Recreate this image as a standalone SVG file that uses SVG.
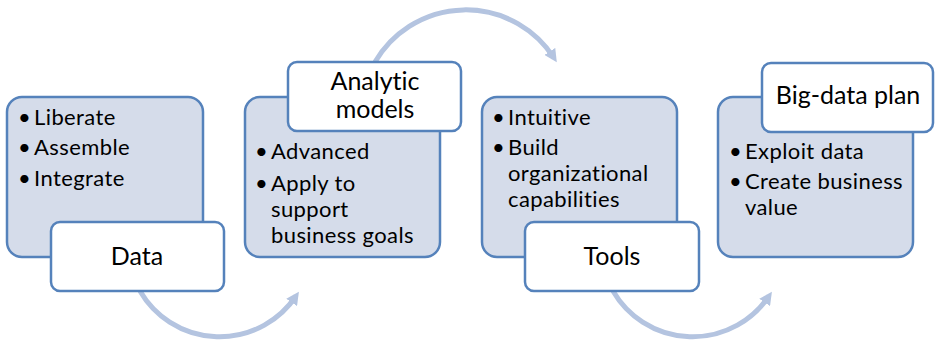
<svg xmlns="http://www.w3.org/2000/svg" width="935" height="341" viewBox="0 0 935 341">
  <defs>
    <marker id="tip" viewBox="0 0 10 10" refX="6" refY="5" markerWidth="2.6" markerHeight="2.6" orient="auto" markerUnits="strokeWidth">
      <path d="M0,0 L10,5 L0,10 z" fill="#b4c4e0"/>
    </marker>
    <style>
      .panel { fill: #d5dcea; stroke: #5582bb; stroke-width: 2.5; }
      .tag { fill: #ffffff; stroke: #5582bb; stroke-width: 2.5; }
      .flow { fill: none; stroke: #b4c4e0; stroke-width: 5; marker-end: url(#tip); }
      text { font-family: Lato, "Open Sans", "Liberation Sans", sans-serif; fill: #000; font-variant-ligatures: none; }
      .item { font-size: 22px; letter-spacing: 0.4px; }
      .dot { font-size: 22px; }
      .title { font-size: 25px; text-anchor: middle; }
    </style>
  </defs>

  <!-- curved flow arrows between the stages -->
  <g id="connectors">
    <path class="flow" d="M 140 291 A 92 92 0 0 0 296 296"/>
    <path class="flow" d="M 375 62 A 105 105 0 0 1 554 58"/>
    <path class="flow" d="M 613 291 A 92 92 0 0 0 769 296"/>
  </g>

  <!-- stage 1: Data -->
  <g id="node-data">
    <rect class="panel" x="7" y="97" width="196" height="160" rx="15"/>
    <text class="dot" x="18" y="125">•</text><text class="item" x="34" y="125">Liberate</text>
    <text class="dot" x="18" y="155">•</text><text class="item" x="34" y="155">Assemble</text>
    <text class="dot" x="18" y="186">•</text><text class="item" x="34" y="186">Integrate</text>
    <rect class="tag" x="51" y="222" width="173" height="69" rx="9"/>
    <text class="title" x="137" y="265">Data</text>
  </g>

  <!-- stage 2: Analytic models -->
  <g id="node-models">
    <rect class="panel" x="245" y="97" width="195" height="160" rx="15"/>
    <text class="dot" x="255" y="159">•</text><text class="item" x="271" y="159">Advanced</text>
    <text class="dot" x="255" y="191">•</text><text class="item" x="271" y="191">Apply to</text>
    <text class="item" x="271" y="217">support</text>
    <text class="item" x="271" y="243">business goals</text>
    <rect class="tag" x="288" y="62" width="173" height="69" rx="9"/>
    <text class="title" x="375" y="90">Analytic</text>
    <text class="title" x="375" y="118">models</text>
  </g>

  <!-- stage 3: Tools -->
  <g id="node-tools">
    <rect class="panel" x="482" y="97" width="195" height="160" rx="15"/>
    <text class="dot" x="492" y="125">•</text><text class="item" x="508" y="125">Intuitive</text>
    <text class="dot" x="492" y="155">•</text><text class="item" x="508" y="155">Build</text>
    <text class="item" x="508" y="181">organizational</text>
    <text class="item" x="508" y="207">capabilities</text>
    <rect class="tag" x="525" y="222" width="174" height="69" rx="9"/>
    <text class="title" x="612" y="265">Tools</text>
  </g>

  <!-- stage 4: Big-data plan -->
  <g id="node-plan">
    <rect class="panel" x="718" y="97" width="195" height="160" rx="15"/>
    <text class="dot" x="729" y="159">•</text><text class="item" x="745" y="159">Exploit data</text>
    <text class="dot" x="729" y="189">•</text><text class="item" x="745" y="189">Create business</text>
    <text class="item" x="745" y="215">value</text>
    <rect class="tag" x="762" y="63" width="171" height="69" rx="9"/>
    <text class="title" x="848" y="104">Big-data plan</text>
  </g>
</svg>
